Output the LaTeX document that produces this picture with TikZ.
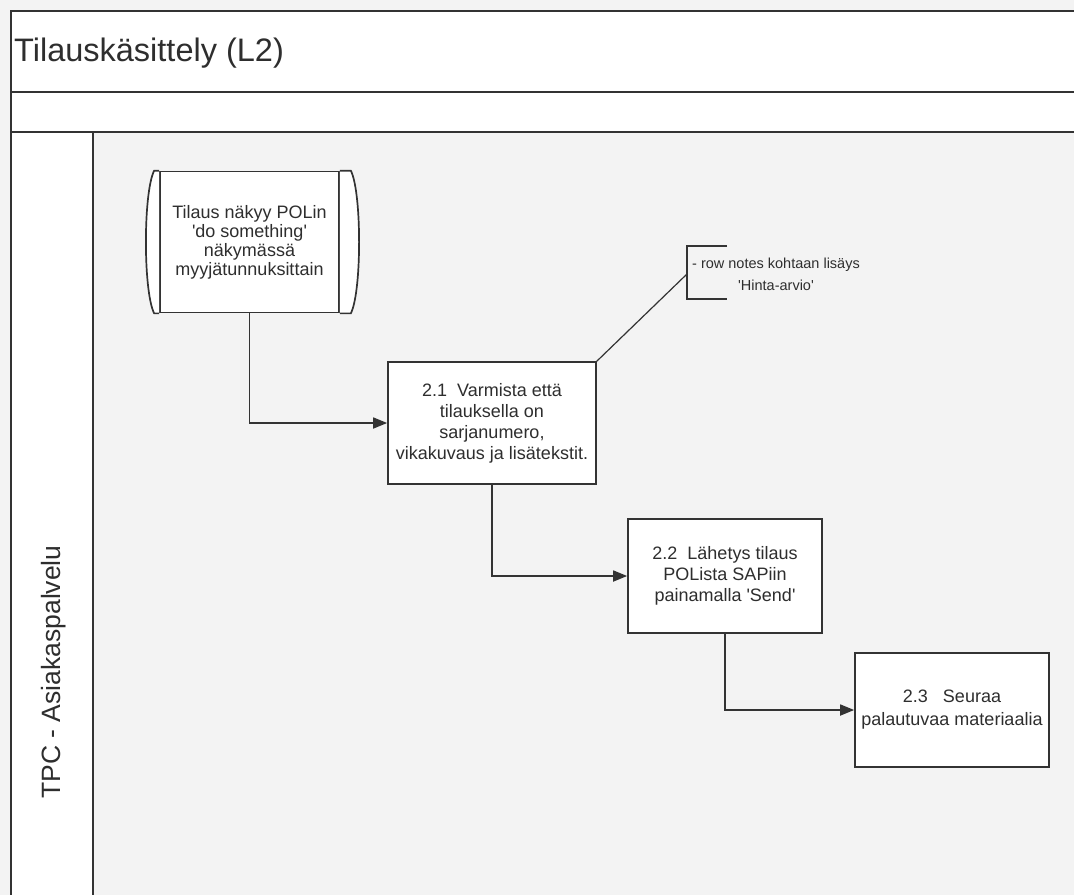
\documentclass[tikz,border=0pt]{standalone}
\usepackage{fontspec}
\setmainfont{Liberation Sans}[Ligatures=TeXOff]
\usetikzlibrary{arrows.meta}
\definecolor{lanegray}{HTML}{F3F3F3}
\definecolor{inkgray}{HTML}{333333}
\definecolor{textgray}{HTML}{2E2E2E}
\begin{document}
\begin{tikzpicture}[x=1pt, y=-1pt,
  task/.style={draw=inkgray, line width=1.7pt, fill=white, align=center, text=textgray,
    font=\fontsize{18}{21}\selectfont, inner sep=0pt},
  flow/.style={draw=inkgray, line width=1.7pt, -{Triangle[length=14pt,width=11pt]}},
  frame/.style={draw=inkgray, line width=1.8pt}]

\useasboundingbox (0,0) rectangle (1074,895);
\fill[lanegray] (0,0) rectangle (1074,895);

% pool header and lane
\fill[white] (11,11) rectangle (1074,132);
\fill[white] (11,132) rectangle (93,895);
\draw[frame] (1074,11) -- (11,11) -- (11,895);
\draw[frame] (11,92) -- (1074,92);
\draw[frame] (11,132) -- (1074,132);
\draw[frame] (93,132) -- (93,895);

\node[anchor=base west, text=textgray, font=\fontsize{32.5}{36}\selectfont, inner sep=0pt] (title) at (14,61) {Tilauskäsittely (L2)};
\node[anchor=base, rotate=90, text=textgray, font=\fontsize{26.5}{30}\selectfont, inner sep=0pt] (lane) at (60,672) {TPC - Asiakaspalvelu};

% start event
\node[task, minimum width=179pt, minimum height=141pt, font=\fontsize{18}{19}\selectfont] (start) at (249.5,242)
  {Tilaus näkyy POLin\\'do something'\\näkymässä\\myyjätunnuksittain};
\filldraw[draw=inkgray, line width=1.7pt, fill=white] (start.north west) -- ++(-5,0)
  .. controls +(-11,22) and +(-11,-22) .. ([xshift=-5pt]start.south west) -- (start.south west);
\filldraw[draw=inkgray, line width=1.7pt, fill=white] (start.north east) -- ++(11,0)
  .. controls +(11,22) and +(11,-22) .. ([xshift=11pt]start.south east) -- (start.south east);

% tasks
\node[task, minimum width=208pt, minimum height=122pt] (b21) at (492,423)
  {2.1\ \ Varmista että\\tilauksella on\\sarjanumero,\\vikakuvaus ja lisätekstit.};
\node[task, minimum width=194pt, minimum height=114pt] (b22) at (725,576)
  {2.2\ \ Lähetys tilaus\\POLista SAPiin\\painamalla 'Send'};
\node[task, minimum width=194pt, minimum height=114pt, font=\fontsize{18}{23}\selectfont] (b23) at (952,710)
  {2.3\ \ \ Seuraa\\palautuvaa materiaalia};

% annotation
\node[text=textgray, align=center, font=\fontsize{14.5}{22}\selectfont, inner sep=0pt] (note) at (776,274)
  {- row notes kohtaan lisäys\\'Hinta-arvio'};
\draw[inkgray, line width=1.6pt] (727,246) -- (687,246) -- (687,299) -- (727,299);
\coordinate (notepin) at (687,274);
\draw[inkgray, line width=1.2pt] (b21.north east) -- (notepin);

% flows
\draw[flow] (start.south) |- (b21.west);
\draw[flow] (b21.south) |- (b22.west);
\draw[flow] (b22.south) |- (b23.west);

\end{tikzpicture}
\end{document}
